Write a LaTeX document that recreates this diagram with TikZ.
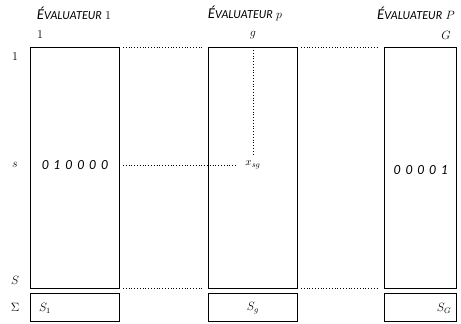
\documentclass[tikz,border=0pt]{standalone}
\usepackage{fontspec}
\setsansfont{Lato}
\newcommand\evltitle[1]{{\sffamily\itshape{\fontsize{13.5}{15}\selectfont É}\fontsize{11}{12}\selectfont VALUATEUR}~{\fontsize{12}{14}\selectfont$#1$}}
\newcommand\dsp{\hspace{4.6pt}}
\begin{document}
\begin{tikzpicture}[x=1pt,y=-1pt,
  col/.style={draw=black,line width=0.8pt,inner sep=0pt,outer sep=0pt,minimum width=89pt,minimum height=241pt},
  sumbox/.style={draw=black,line width=0.8pt,inner sep=0pt,outer sep=0pt,minimum width=89pt,minimum height=28pt},
  lbl/.style={inner sep=0pt,font=\fontsize{12}{14}\selectfont},
  ttl/.style={inner sep=0pt},
  digits/.style={inner sep=0pt,font=\sffamily\itshape\fontsize{12.5}{14}\selectfont},
  dots/.style={dotted,line width=0.8pt}]
\useasboundingbox (0,0) rectangle (461,324);
% columns
\node[col] (b1) at (74.5,167.5) {};
\node[col] (b2) at (252.5,167.5) {};
\node[col,minimum width=72pt] (b3) at (420,167.5) {};
\node[sumbox] (s1) at (74.5,307) {};
\node[sumbox] (s2) at (252.5,307) {};
\node[sumbox,minimum width=72pt] (s3) at (420,307) {};
% titles
\node[ttl] (t1) at (74,13) {\evltitle{1}};
\node[ttl] (t2) at (245,13) {\evltitle{p}};
\node[ttl,anchor=west] (t3) at (377,13) {\evltitle{P}};
% column labels
\node[lbl] (c1) at (40,35) {$1$};
\node[lbl] (cg) at (253,35) {$g$};
\node[lbl] (cG) at (446,35) {$G$};
% row labels
\node[lbl] (r1) at (15,57) {$1$};
\node[lbl] (rs) at (15,165) {$s$};
\node[lbl] (rS) at (15,280) {$S$};
\node[lbl] (rsig) at (15,307) {$\Sigma$};
% content
\node[digits] (d1) at (75,165) {0\dsp1\dsp0\dsp0\dsp0\dsp0};
\node[digits] (d3) at (421,170) {0\dsp0\dsp0\dsp0\dsp1};
\node[inner sep=1pt,font=\fontsize{11}{13}\selectfont] (x) at (253,165) {$x_{sg}$};
\node[lbl] (S1) at (45,308) {$S_1$};
\node[lbl] (Sg) at (253,308) {$S_g$};
\node[lbl] (SG) at (444,308) {$S_G$};
% dotted connectors
\draw[dots] ([xshift=4pt]b1.north east) -- ([xshift=-6pt]b2.north west);
\draw[dots] ([xshift=4pt]b2.north east) -- ([xshift=-6pt]b3.north west);
\draw[dots] ([xshift=4pt]b1.south east) -- ([xshift=-6pt]b2.south west);
\draw[dots] ([xshift=4pt]b2.south east) -- ([xshift=-6pt]b3.south west);
\draw[dots] ([xshift=4pt]b1.east |- x) -- ([xshift=-9pt]x.west);
\draw[dots] ([yshift=-3pt]b2.north -| x) -- ([yshift=4pt]x.north);
\end{tikzpicture}
\end{document}
